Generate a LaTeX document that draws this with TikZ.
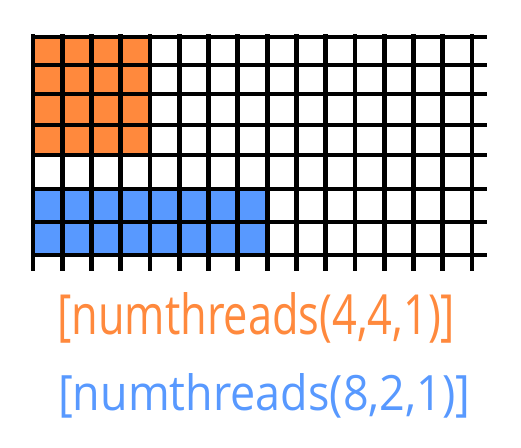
\documentclass[tikz,border=0pt]{standalone}
\usepackage{graphicx}
\usepackage{fontspec}
\setmainfont{Open Sans}
\definecolor{tileorange}{RGB}{255,137,61}
\definecolor{tileblue}{RGB}{88,153,255}
\begin{document}
\begin{tikzpicture}[x=1pt,y=-1pt,
  gridline/.style={line width=4.8pt,black},
  label/.style={inner sep=0pt,anchor=base west}]
\useasboundingbox (0,0) rectangle (521,447);
% fills
\fill[tileorange] (33,37) rectangle (150,155);
\fill[tileblue] (33,189) rectangle (267,255);
% horizontal lines
\foreach \y in {37,65,94,125,155,189,222,255}
  \draw[gridline] (33,\y) -- (487,\y);
% vertical lines
\foreach \i in {0,...,15}
  \draw[gridline] ({33+\i*29.27},34) -- ({33+\i*29.27},271);
% labels
\node[label,text=tileorange] (orangelabel) at (57,334)
  {\resizebox{398pt}{42pt}{\fontsize{40}{40}\selectfont[numthreads(4,4,1)]}};
\node[label,text=tileblue] (bluelabel) at (58,410)
  {\resizebox{412pt}{37pt}{\fontsize{40}{40}\selectfont[numthreads(8,2,1)]}};
\end{tikzpicture}
\end{document}
